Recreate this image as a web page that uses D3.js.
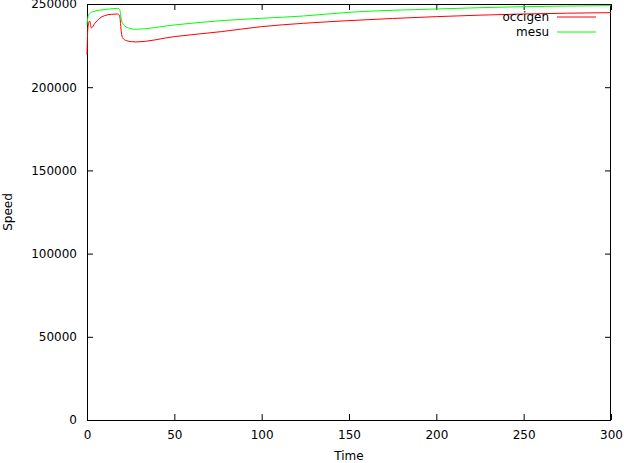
<html>
<head>
<script src="https://cdnjs.cloudflare.com/ajax/libs/d3/7.8.5/d3.min.js"></script>
<style>
  body { margin: 0; background: #fff; }
  text { font-family: "DejaVu Sans", sans-serif; font-size: 12px; fill: #000; }
</style>
</head>
<body>
<svg width="624" height="463"></svg>
<script>
// values
const occigenTime  = [0, 0.5, 1.5, 2.5, 4.5, 7.3, 10, 14, 17.6, 18.7, 19.7, 20.4, 22.5, 25.4, 28, 50, 77, 100, 124, 150, 200, 250, 300];
const occigenSpeed = [219400, 235600, 239800, 235600, 238400, 241400, 243000, 243800, 244000, 242800, 232600, 229600, 228000, 227400, 227200, 230400, 233400, 236400, 238400, 240000, 242400, 244000, 244800];
const mesuTime  = [0, 0.6, 1.5, 3.5, 8, 13, 17.7, 18.7, 19.7, 21.6, 24.5, 27.3, 50, 77, 100, 124, 150, 200, 250, 300];
const mesuSpeed = [237400, 242400, 244400, 245400, 246400, 247000, 247400, 246700, 240400, 236800, 235400, 234800, 237400, 240000, 241400, 242800, 245000, 247000, 248400, 249000];
const xTicks = [0, 50, 100, 150, 200, 250, 300];
const yTicks = [0, 50000, 100000, 150000, 200000, 250000];

const margin = {left: 87, right: 13, top: 4, bottom: 43};
const svg = d3.select("svg");
const w = 624 - margin.left - margin.right;
const h = 463 - margin.top - margin.bottom;

const x = d3.scaleLinear().domain([0, 300]).range([0, w]);
const y = d3.scaleLinear().domain([0, 250000]).range([h, 0]);

const g = svg.append("g").attr("transform", `translate(${margin.left},${margin.top})`);

const styleAxis = sel => {
  sel.select(".domain").remove();
  sel.selectAll("line").attr("stroke", "#000");
  sel.selectAll("text").attr("font-family", "DejaVu Sans").attr("font-size", 12);
};

g.append("g").attr("transform", `translate(0,${h})`)
  .call(d3.axisBottom(x).tickValues(xTicks).tickSize(-6).tickPadding(10).tickFormat(d3.format("d")))
  .call(styleAxis);
g.append("g")
  .call(d3.axisTop(x).tickValues(xTicks).tickSize(-6).tickFormat(""))
  .call(styleAxis);
g.append("g")
  .call(d3.axisLeft(y).tickValues(yTicks).tickSize(-6).tickPadding(10).tickFormat(d3.format("d")))
  .call(styleAxis);
g.append("g").attr("transform", `translate(${w},0)`)
  .call(d3.axisRight(y).tickValues(yTicks).tickSize(-6).tickFormat(""))
  .call(styleAxis);

g.append("rect")
  .attr("x", 0.5).attr("y", 0.5)
  .attr("width", w - 1).attr("height", h)
  .attr("fill", "none").attr("stroke", "#000");

const line = d3.line()
  .x(d => x(d[0]))
  .y(d => y(d[1]))
  .curve(d3.curveMonotoneX);

const series = [
  {name: "occigen", color: "#ff0000", pts: d3.zip(occigenTime, occigenSpeed)},
  {name: "mesu", color: "#00ff00", pts: d3.zip(mesuTime, mesuSpeed)}
];

g.selectAll(".series")
  .data(series)
  .join("path")
  .attr("class", "series")
  .attr("fill", "none")
  .attr("stroke", d => d.color)
  .attr("stroke-width", 1)
  .attr("d", d => line(d.pts));

// legend
const legend = g.selectAll(".legend")
  .data(series)
  .join("g")
  .attr("class", "legend")
  .attr("transform", (d, i) => `translate(${w - 54},${13 + i * 15})`);
legend.append("text")
  .attr("x", -8).attr("dy", "0.35em")
  .attr("text-anchor", "end")
  .text(d => d.name);
legend.append("line")
  .attr("x1", 0).attr("x2", 39)
  .attr("stroke", d => d.color);

svg.append("text")
  .attr("x", margin.left + w / 2).attr("y", 460)
  .attr("text-anchor", "middle")
  .text("Time");
svg.append("text")
  .attr("transform", `translate(12,${margin.top + h / 2}) rotate(-90)`)
  .attr("text-anchor", "middle")
  .text("Speed");
</script>
</body>
</html>
